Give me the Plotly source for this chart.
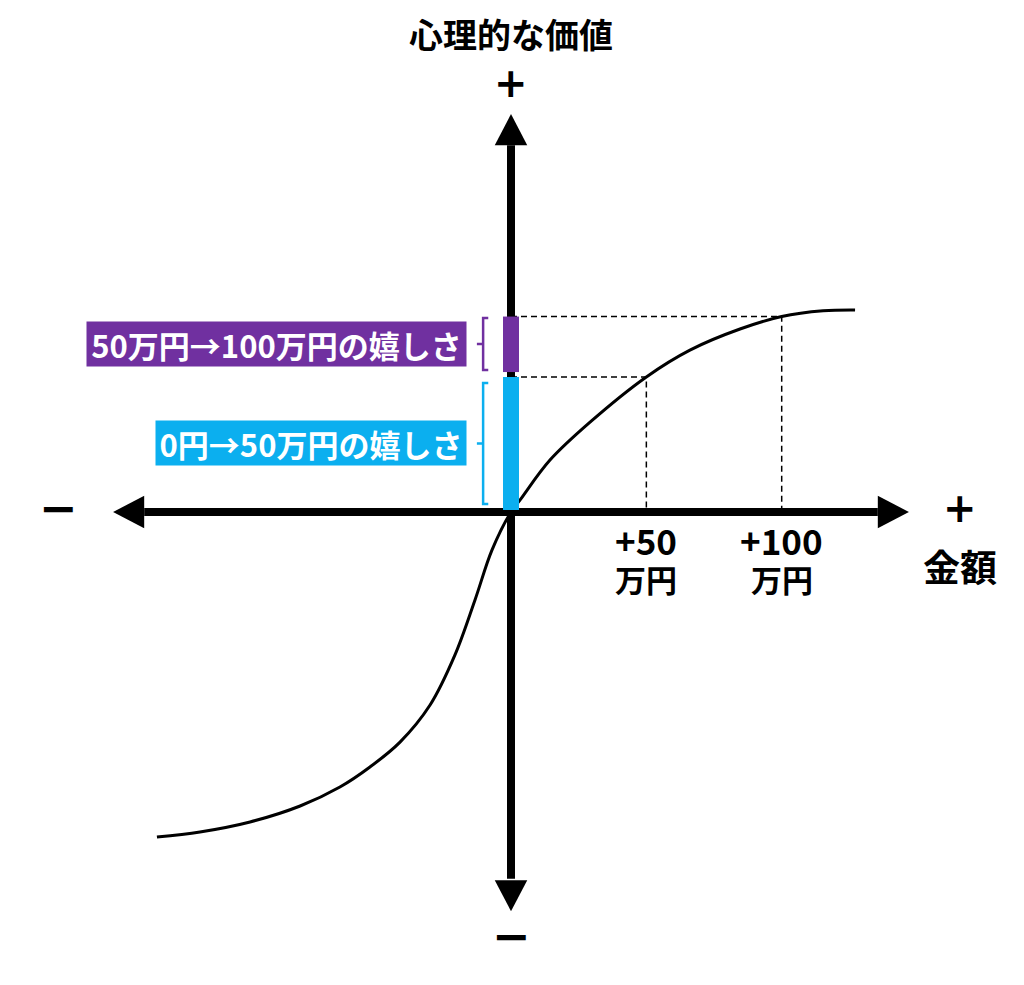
import plotly.graph_objects as go

# ---- data (x: 金額 in 万円, v: 心理的な価値, arbitrary units) ----
curve_x = [-130.8, -114.9, -96.4, -77.9, -63.2, -52.1, -41.0, -29.9, -20.7, -13.3, -7.0, 0,
           3.3, 14.4, 29.2, 50.0, 66.1, 84.6, 100.0, 115.3, 127.1]
curve_v = [-120.1, -118.2, -114.5, -108.6, -101.6, -94.2, -85.0, -71.3, -52.8, -32.5, -14.0, 0,
           4.4, 19.2, 33.2, 49.9, 59.8, 67.6, 72.2, 74.3, 74.6]
mark_x = [50, 100]
mark_v = [49.9, 72.2]
mark_top = ["+50", "+100"]
mark_unit = ["万円", "万円"]
band_labels = ["0円→50万円の嬉しさ", "50万円→100万円の嬉しさ"]
band_colors = ["#0BAFEF", "#7030A0"]
title_text = "心理的な価値"
x_title = "金額"

# ---- geometry (px per unit, origin placement inside the figure) ----
S = 2.707
OX, OY = 503, 504
W, H = 1024, 985
xr = [-OX / S, (W - OX) / S]
yr = [-(H - OY) / S, OY / S]
FONT = "Noto Sans CJK JP"
SYM = "DejaVu Sans"

fig = go.Figure()

# dashed guide lines
for mx, mv in zip(mark_x, mark_v):
    fig.add_trace(go.Scatter(x=[0, mx, mx], y=[mv, mv, 0], mode="lines",
                             line=dict(color="black", width=1.5, dash="6px,4px"),
                             hoverinfo="skip"))

# value curve
fig.add_trace(go.Scatter(x=curve_x, y=curve_v, mode="lines",
                         line=dict(color="black", width=3, shape="spline", smoothing=1.0),
                         hoverinfo="skip"))

shapes = []
ax_lim = 147.0
head_len = 11.5
head_w = 6.0
shapes.append(dict(type="line", x0=-ax_lim + head_len, x1=ax_lim - head_len, y0=0, y1=0,
                   line=dict(color="black", width=8)))
shapes.append(dict(type="line", y0=-ax_lim + head_len, y1=ax_lim - head_len, x0=0, x1=0,
                   line=dict(color="black", width=8)))


def tri(pts):
    return "M " + " L ".join(f"{a},{b}" for a, b in pts) + " Z"


shapes.append(dict(type="path", path=tri([(-ax_lim, 0), (-ax_lim + head_len, head_w), (-ax_lim + head_len, -head_w)]),
                   fillcolor="black", line=dict(width=0)))
shapes.append(dict(type="path", path=tri([(ax_lim, 0), (ax_lim - head_len, head_w), (ax_lim - head_len, -head_w)]),
                   fillcolor="black", line=dict(width=0)))
shapes.append(dict(type="path", path=tri([(0, ax_lim), (head_w, ax_lim - head_len), (-head_w, ax_lim - head_len)]),
                   fillcolor="black", line=dict(width=0)))
shapes.append(dict(type="path", path=tri([(0, -ax_lim - 0.5), (head_w, -ax_lim - 0.5 + head_len), (-head_w, -ax_lim - 0.5 + head_len)]),
                   fillcolor="black", line=dict(width=0)))

# coloured bands on vertical axis
bands = [(0.7, mark_v[0]), (mark_v[0] + 1.8, mark_v[1])]
for (b0, b1), col in zip(bands, band_colors):
    shapes.append(dict(type="line", x0=0, x1=0, y0=b0, y1=b1, line=dict(color=col, width=16)))

# brackets
brackets = [(3.0, mark_v[0] - 2.2), (mark_v[0] + 2.6, mark_v[1] - 0.5)]
bx, bhook, btick = -10.3, -8.4, -12.6
for (b0, b1), col in zip(brackets, band_colors):
    m = (b0 + b1) / 2
    path = (f"M {bhook},{b0} L {bx},{b0} L {bx},{b1} L {bhook},{b1} "
            f"M {bx},{m} L {btick},{m}")
    shapes.append(dict(type="path", path=path, line=dict(color=col, width=2.5)))

annotations = []
box_w = [302, 371]
for (b0, b1), col, txt, bw in zip(brackets, band_colors, band_labels, box_w):
    annotations.append(dict(x=-16.3, y=(b0 + b1) / 2, xref="x", yref="y", text=txt,
                            showarrow=False, xanchor="right", yanchor="middle",
                            bgcolor=col, borderpad=4, width=bw, height=36,
                            font=dict(family=FONT, size=31, color="white", weight="bold")))

# tick labels (two lines)
for mx, top, unit in zip(mark_x, mark_top, mark_unit):
    annotations.append(dict(x=mx, y=-10.3, xref="x", yref="y", text=top, showarrow=False,
                            xanchor="center", yanchor="middle",
                            font=dict(family=FONT, size=35, color="black", weight="bold")))
    annotations.append(dict(x=mx, y=-24.4, xref="x", yref="y", text=unit, showarrow=False,
                            xanchor="center", yanchor="middle",
                            font=dict(family=FONT, size=31, color="black", weight="bold")))


def lab(x, y, t, fam, size):
    annotations.append(dict(x=x, y=y, xref="x", yref="y", text=t, showarrow=False,
                            xanchor="center", yanchor="middle",
                            font=dict(family=fam, size=size, color="black", weight="bold")))


lab(0, 176.9, title_text, FONT, 34)
lab(165.9, -19.9, x_title, FONT, 37)
lab(0, 158.5, "+", SYM, 40)
lab(165.9, 1.5, "+", SYM, 40)
lab(0, -156.6, "−", SYM, 46)
lab(-167.3, 1.5, "−", SYM, 46)

fig.update_layout(
    width=W, height=H, margin=dict(l=0, r=0, t=0, b=0),
    paper_bgcolor="white", plot_bgcolor="white", showlegend=False,
    xaxis=dict(range=xr, visible=False, fixedrange=True),
    yaxis=dict(range=yr, visible=False, fixedrange=True),
    shapes=shapes, annotations=annotations,
)
fig.write_html("out.html")
